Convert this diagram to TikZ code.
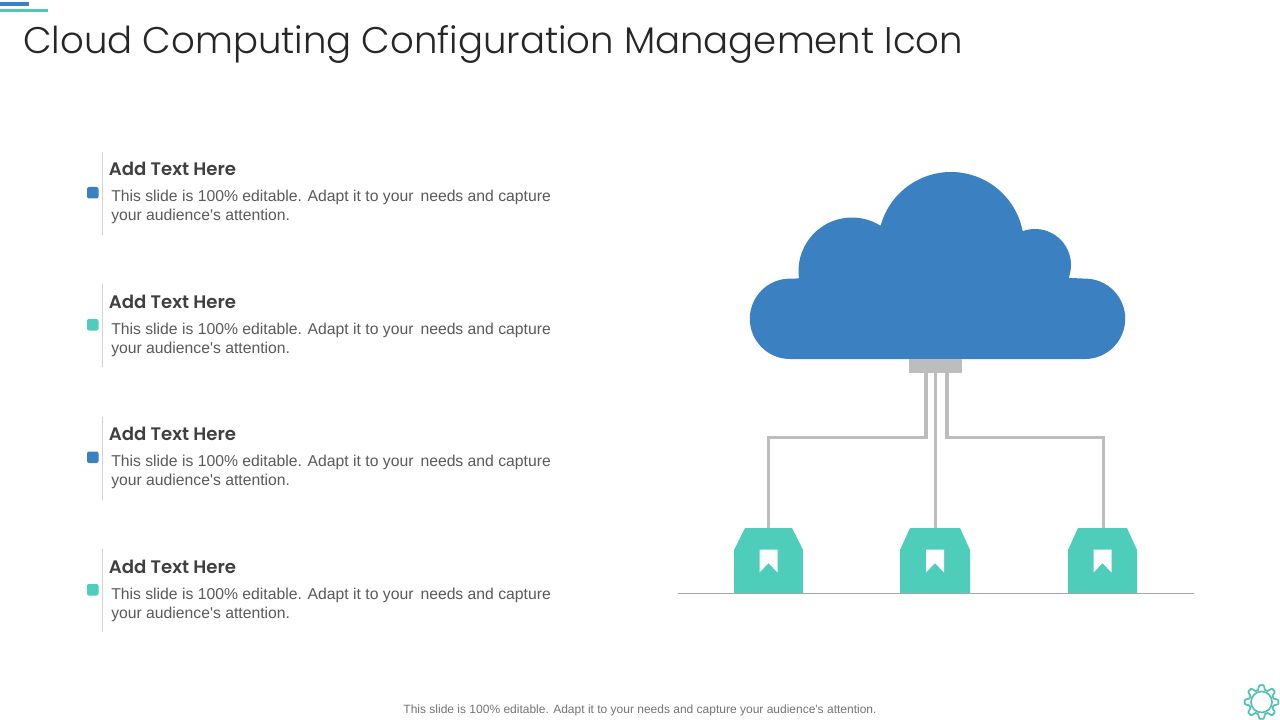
\documentclass[tikz,border=0pt]{standalone}
\usepackage{fontspec}
\setmainfont{Liberation Sans}
\newfontfamily\titlefont[UprightFont=* Light]{Poppins}
\newfontfamily\headfont[UprightFont=* SemiBold]{Poppins}
\definecolor{cloudblue}{HTML}{3B81C2}
\definecolor{tagteal}{HTML}{4FCDBB}
\definecolor{wiregray}{HTML}{BDBDBD}
\definecolor{bodygray}{HTML}{595959}
\tikzset{
  wire/.style={draw=wiregray, line width=2.3pt},
  tagbox/.style={minimum width=51.5pt, minimum height=49pt, inner sep=0pt},
  headtext/.style={anchor=base west, inner sep=0pt, text=black!75, font=\headfont\fontsize{13.6}{17}\selectfont},
  bodytext/.style={anchor=base west, inner sep=0pt, text=bodygray, font=\fontsize{11.8}{14}\selectfont},
}
% one tag with its ribbon, cx = centre, w = half width, t = half width on top, r = ribbon half width
\newcommand{\tagshape}[4]{
  \fill[tagteal] (#1-#2,593.5) -- (#1-#2,550) -- (#1-#3,528) -- (#1+#3,528) -- (#1+#2,550) -- (#1+#2,593.5) -- cycle;
  \fill[white] (#1-#4,549.5) -- (#1+#4,549.5) -- (#1+#4,572.5) -- (#1,563) -- (#1-#4,572.5) -- cycle;
}
\begin{document}
\begin{tikzpicture}[x=0.75pt, y=-0.75pt]
  \useasboundingbox (0,0) rectangle (1280,720);
  % top corner bars
  \fill[cloudblue] (0,2) rectangle (29,6);
  \fill[tagteal!90!gray] (0,9) rectangle (48,12);
  \node[anchor=base west, inner sep=0pt, text=black!85, font=\titlefont\fontsize{27.8}{34}\selectfont] (title) at (23,53.5) {Cloud Computing Configuration Management Icon};
  % text items
  \foreach \n/\yy/\col in {1/0/cloudblue, 2/132/tagteal, 3/264.5/cloudblue, 4/397/tagteal}{
    \draw[black!18, line width=0.75pt] (102.5,152+\yy) -- (102.5,235+\yy);
    \fill[\col, rounded corners=1.5pt] (87,187+\yy) rectangle (98.5,198.5+\yy);
    \node[headtext] (head\n) at (108.5,176+\yy) {Add Text Here};
    \node[bodytext] (bodya\n) at (111,202+\yy) {This slide is 100\% editable. Adapt it to your \,needs and capture};
    \node[bodytext] (bodyb\n) at (111,221+\yy) {your audience\textquotesingle s attention.};
  }
  % cloud
  \fill[cloudblue] (790,359) arc (90:270:40.2)
    -- ([shift={(172:53.5)}]852,271) arc (172:302:53.5)
    -- ([shift={(195.9:73)}]951,245) arc (195.9:349:73)
    -- ([shift={(250.6:36)}]1035,265) arc (250.6:381:36)
    -- (1085,278.6) arc (270:450:40.2) -- cycle;
  \node[fill=wiregray, minimum width=39.75pt, minimum height=10.5pt, inner sep=0pt] (hub) at (935.5,366) {};
  % tags on the floor
  \tagshape{768.5}{34.5}{23.5}{9}
  \tagshape{935}{35}{25}{9}
  \tagshape{1102.5}{34.5}{24.5}{9}
  \node[tagbox] (taga) at (768.7,560.5) {};
  \node[tagbox] (tagb) at (935.3,560.5) {};
  \node[tagbox] (tagc) at (1103.4,560.5) {};
  \coordinate (floora) at (678,593.5);
  \coordinate (floorb) at (1194,593.5);
  \draw[black!35, line width=1pt] (floora) -- (floorb);
  % wires
  \coordinate (hubl) at (926,373);
  \coordinate (hubr) at (947,373);
  \coordinate (bendl) at (926,437.7);
  \coordinate (bendr) at (947,437.7);
  \draw[wire] (hubl) -- (bendl) -| (taga.north);
  \draw[wire] (hub.south -| tagb.north) -- (tagb.north);
  \draw[wire] (hubr) -- (bendr) -| (tagc.north);
  % footer and gear
  \node[inner sep=0pt, text=black!55, font=\fontsize{9}{11}\selectfont] (footer) at (640,710) {This slide is 100\% editable. Adapt it to your needs and capture your audience\textquotesingle s attention.};
  \draw[tagteal!85!gray, line width=1.3pt, domain=0:360, samples=193, smooth] plot ({1261.5+(14.7+2.6*(cos(8*\x)-0.2*cos(24*\x)))*cos(\x)}, {702+(14.7+2.6*(cos(8*\x)-0.2*cos(24*\x)))*sin(\x)}) -- cycle;
  \draw[tagteal!85!gray, line width=1.3pt] (1261.5,702) circle (10.5);
\end{tikzpicture}
\end{document}
